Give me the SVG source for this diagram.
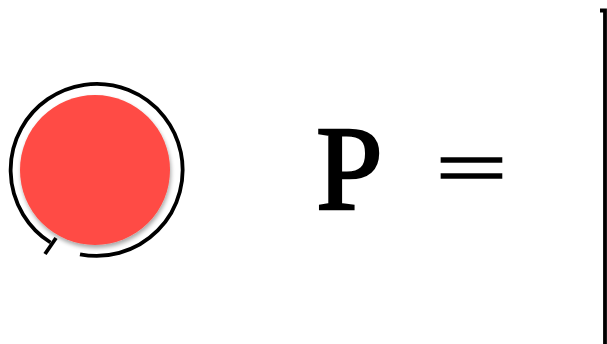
<svg xmlns="http://www.w3.org/2000/svg" width="607" height="344" viewBox="0 0 607 344">
<defs>
<filter id="sh" x="-20%" y="-20%" width="140%" height="140%">
<feGaussianBlur in="SourceAlpha" stdDeviation="2"/>
<feOffset dx="1" dy="3" result="b"/>
<feComponentTransfer><feFuncA type="linear" slope="0.35"/></feComponentTransfer>
<feMerge><feMergeNode/><feMergeNode in="SourceGraphic"/></feMerge>
</filter>
<style>
.ln{fill:none;stroke:#000;stroke-width:3.8;stroke-linecap:butt}
.t{font-family:'Liberation Serif','Times New Roman',Times,serif}
</style>
</defs>
<rect width="607" height="344" fill="#fff"/>
<g id="circle-node">
<circle cx="95" cy="170" r="75" fill="#FF4B44" filter="url(#sh)"/>
<path class="ln" d="M50.5 242.5 A86 86 0 1 1 80 254.3"/>
<path class="ln" d="M56 238 L45 254"/>
</g>
<g id="formula">
<text class="t" x="316" y="209" font-size="120" stroke="#000" stroke-width="2.5">P</text>
<text class="t" x="471.5" y="207" font-size="118" text-anchor="middle" stroke="#000" stroke-width="2.2" transform="translate(471.5,168.5) scale(1.08,0.68) translate(-471.5,-168.5)">=</text>
</g>
<g id="bracket">
<path class="ln" d="M600 10.5 H605 V344"/>
</g>
</svg>
